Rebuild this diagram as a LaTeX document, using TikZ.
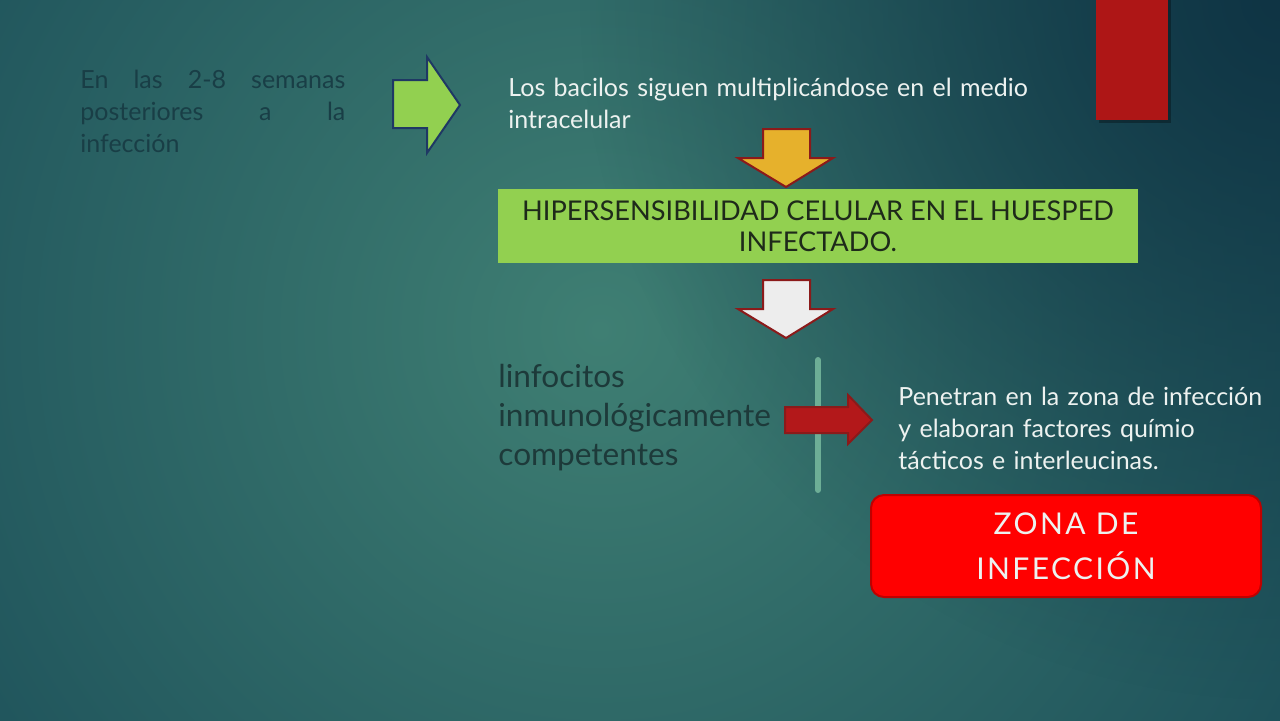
\documentclass[tikz,border=0pt]{standalone}
\usepackage{fontspec}
\setmainfont{Lato}
\usetikzlibrary{positioning,fadings}
\tikzfading[name=corner glow, inner color=transparent!0, outer color=transparent!100]

\definecolor{bgdark}{HTML}{194B57}
\definecolor{bgnavy}{HTML}{0F3444}
\definecolor{bglight}{HTML}{3F7F73}
\definecolor{leafgreen}{HTML}{92D050}
\definecolor{navyline}{HTML}{1F3864}
\definecolor{rimred}{HTML}{8B1A1A}
\definecolor{gold}{HTML}{E6B12C}
\definecolor{paper}{HTML}{EDEDED}
\definecolor{paleline}{HTML}{6DAE96}
\definecolor{bloodred}{HTML}{B3181A}
\definecolor{ribbon}{HTML}{AE1616}
\definecolor{alarm}{HTML}{FF0000}
\definecolor{alarmrim}{HTML}{C00000}
\definecolor{textwhite}{HTML}{EDF2F0}
\definecolor{faded}{HTML}{193E46}
\definecolor{darktext}{HTML}{1D3A3A}
\definecolor{boxtext}{HTML}{1E2A1A}

\begin{document}
\begin{tikzpicture}[x=0.5pt, y=-0.5pt, block/.style = {line width=1pt, line join=miter}, slidetext/.style = {anchor=base west, align=left, inner sep=0pt, font=\fontsize{12.5}{16}\selectfont}]

    % background
    \useasboundingbox (0,0) rectangle (1280,720);
    \fill[bgdark] (0,0) rectangle (1280,720);
    \begin{scope}
        \clip (0,0) rectangle (1280,720);
        \shade[inner color=bglight, outer color=bgdark] (600,330) circle (900);
        \fill[bgnavy, path fading=corner glow] (1280,0) circle (700);
    \end{scope}
    \fill[black, opacity=0.3] (1099,0) rectangle (1171,123);
    \fill[ribbon] (1096,0) rectangle (1168,120);

    % block arrows
    \draw[block, draw=navyline, fill=leafgreen] (393,80) -- (427,80) -- (427,57) -- (460,105) -- (427,153) -- (427,128) -- (393,128) -- cycle;
    \draw[block, draw=rimred, fill=gold] (763,129) -- (810,129) -- (810,158) -- (833,158) -- (786,187) -- (738,158) -- (763,158) -- cycle;
    \draw[block, draw=rimred, fill=paper] (763,280) -- (810,280) -- (810,309) -- (833,309) -- (786,338) -- (738,309) -- (763,309) -- cycle;
    \draw[paleline, line width=3pt, line cap=round] (818,360) -- (818,490);
    \draw[block, draw=rimred, fill=bloodred] (785,407) -- (848,407) -- (848,395) -- (872,420) -- (848,444) -- (848,433) -- (785,433) -- cycle;

    % texts
    \node[slidetext, text=faded, text width=132.5pt] (semanas) at (80,88) {En\hfill las\hfill 2-8\hfill semanas\\ posteriores\hfill a\hfill la\\ infección};
    \node[slidetext, text=textwhite, text width=280pt] (bacilos) at (508,96) {Los bacilos siguen multiplicándose en el medio\\ intracelular};
    \node[fill=leafgreen, minimum width=320pt, minimum height=37pt, align=center, text=boxtext, font=\fontsize{13.6}{15.5}\selectfont] (hiper) at (818,226) {HIPERSENSIBILIDAD CELULAR EN EL HUESPED\\ INFECTADO.};
    \node[slidetext, text=darktext, text width=150pt, font=\fontsize{15.8}{19.5}\selectfont] (linfo) at (498,387) {linfocitos\\ inmunológicamente\\ competentes};
    \node[slidetext, text=textwhite, text width=190pt] (penetran) at (898,405) {Penetran en la zona de infección\\ y elaboran factores químio\\ tácticos e interleucinas.};
    \node[draw=alarmrim, line width=1pt, fill=alarm, rounded corners=6.5pt, minimum width=195pt, minimum height=51pt, align=center, text=textwhite, font=\fontsize{15}{22.5}\selectfont\addfontfeatures{LetterSpace=8}] (zona) at (1066,546) {ZONA DE\\ INFECCIÓN};

\end{tikzpicture}
\end{document}
